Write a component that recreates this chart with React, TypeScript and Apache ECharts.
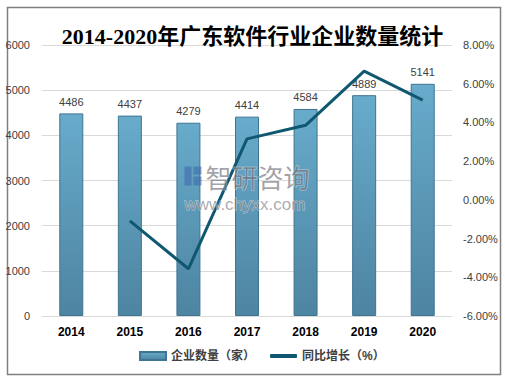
import React, { useEffect, useRef } from "react";
import * as echarts from "echarts";

const titleText = "2014-2020年广东软件行业企业数量统计";
const categories = ["2014", "2015", "2016", "2017", "2018", "2019", "2020"];
const companyCounts = [4486, 4437, 4279, 4414, 4584, 4889, 5141];
const growthRates: (number | null)[] = [null, -1.09, -3.56, 3.15, 3.85, 6.65, 5.15];
const barName = "企业数量（家）";
const lineName = "同比增长（%）";

export default function App() {
  const ref = useRef<HTMLDivElement>(null);
  useEffect(() => {
    if (!ref.current) return;
    const chart = echarts.init(ref.current, null, { renderer: "svg" });
    const sans = "'Liberation Sans', Arial, 'Noto Sans CJK SC', sans-serif";
    const legendText = { fontSize: 12, color: "#404040", fontFamily: sans, fontWeight: "bold" };
    chart.setOption({
      animation: false,
      backgroundColor: "#ffffff",
      title: {
        text: titleText,
        left: "center",
        top: 20,
        textStyle: {
          fontSize: 22,
          fontWeight: "bold",
          color: "#000000",
          fontFamily: "'Liberation Serif', 'Noto Sans CJK SC', serif",
        },
      },
      legend: [
        {
          left: 134,
          top: 345,
          itemWidth: 26,
          itemHeight: 8,
          icon: "rect",
          textStyle: legendText,
          data: [barName],
        },
        {
          left: 265,
          top: 345,
          itemWidth: 27,
          itemHeight: 4,
          icon: "roundRect",
          textStyle: legendText,
          data: [lineName],
        },
      ],
      grid: { left: 42, right: 53, top: 45, bottom: 61, containLabel: false },
      xAxis: {
        type: "category",
        data: categories,
        axisTick: { show: false },
        axisLine: { show: true, lineStyle: { color: "#d9d9d9" } },
        axisLabel: { color: "#000000", fontSize: 12, fontWeight: "bold", fontFamily: sans, margin: 10 },
      },
      yAxis: [
        {
          type: "value",
          min: 0,
          max: 6000,
          interval: 1000,
          axisLine: { show: false },
          axisTick: { show: false },
          splitLine: { lineStyle: { color: "#d9d9d9" } },
          axisLabel: {
            color: "#404040",
            fontSize: 11,
            fontFamily: sans,
            margin: 12,
            formatter: (v: number) => String(v),
          },
        },
        {
          type: "value",
          min: -6,
          max: 8,
          interval: 2,
          axisLine: { show: false },
          axisTick: { show: false },
          splitLine: { show: false },
          axisLabel: {
            color: "#404040",
            fontSize: 11,
            fontFamily: sans,
            margin: 11,
            formatter: (v: number) => v.toFixed(2) + "%",
          },
        },
      ],
      series: [
        {
          name: barName,
          type: "bar",
          data: companyCounts,
          barWidth: 24,
          itemStyle: {
            color: new echarts.graphic.LinearGradient(0, 0, 0, 1, [
              { offset: 0, color: "#68abcb" },
              { offset: 1, color: "#4d84a1" },
            ]),
            borderColor: "#3e7592",
            borderWidth: 1,
          },
          label: {
            show: true,
            position: "top",
            color: "#404040",
            fontSize: 11,
            fontFamily: sans,
            distance: 6,
          },
        },
        {
          name: lineName,
          type: "line",
          yAxisIndex: 1,
          data: growthRates,
          symbol: "none",
          lineStyle: { color: "#0f5870", width: 3 },
          itemStyle: { color: "#0f5870" },
        },
      ],
      graphic: [
        {
          type: "rect",
          left: 5,
          top: 5,
          shape: { width: 493, height: 367 },
          style: { fill: "none", stroke: "#808080", lineWidth: 1.5 },
          silent: true,
        },
        {
          type: "group",
          left: 184,
          top: 163,
          z: 100,
          silent: true,
          children: [
            { type: "rect", x: 0, y: 3, z: 100, shape: { width: 7, height: 19 }, style: { fill: "rgba(60,100,170,0.55)" } },
            { type: "rect", x: 9, y: 3, z: 100, shape: { width: 8, height: 8 }, style: { fill: "rgba(60,100,170,0.55)" } },
            { type: "rect", x: 9, y: 13, z: 100, shape: { width: 8, height: 9 }, style: { fill: "rgba(60,100,170,0.55)" } },
            {
              type: "text",
              x: 21,
              y: 0,
              z: 100,
              style: {
                text: "智研咨询",
                fontSize: 26,
                fill: "rgba(100,100,110,0.6)",
                stroke: "rgba(255,255,255,0.5)",
                lineWidth: 1,
                fontFamily: "'Noto Sans CJK SC', sans-serif",
              },
            },
            {
              type: "text",
              x: 0,
              y: 32,
              z: 100,
              style: {
                text: "www.chyxx.com",
                fontSize: 17,
                fill: "rgba(100,100,110,0.55)",
                stroke: "rgba(255,255,255,0.5)",
                lineWidth: 1,
                fontFamily: sans,
              },
            },
          ],
        },
      ],
    });
    return () => chart.dispose();
  }, []);
  return (
    <div
      ref={ref}
      style={{ position: "fixed", left: 0, top: 0, width: 505, height: 377 }}
    />
  );
}
